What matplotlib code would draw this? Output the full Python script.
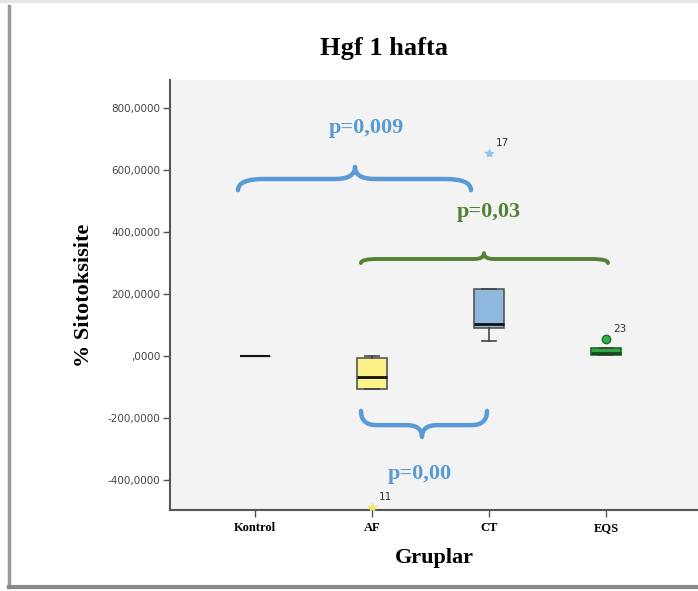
import matplotlib
matplotlib.use("Agg")
import matplotlib.pyplot as plt
from matplotlib.path import Path
from matplotlib.patches import PathPatch
from matplotlib.lines import Line2D

# ---- data ---------------------------------------------------------------
groups = ["Kontrol", "AF", "CT", "EQS"]
q1 = [0, -107, 91, 4]
medians = [0, -69, 103, 9]
q3 = [0, -7, 216, 25]
whisker_low = [0, -107, 48, 4]
whisker_high = [0, 1, 216, 25]
outliers = [[], [-487], [655], [55]]
outlier_ids = [[], ["11"], ["17"], ["23"]]

y_ticks = [-400, -200, 0, 200, 400, 600, 800]
y_tick_labels = ["-400,0000", "-200,0000", ",0000", "200,0000",
                 "400,0000", "600,0000", "800,0000"]

# pairwise comparisons: (left group, right group, p label)
comparisons = [("Kontrol", "CT", "p=0,009"),
               ("AF", "EQS", "p=0,03"),
               ("AF", "CT", "p=0,00")]

# ---- styling --------------------------------------------------------------
box_fill = ["#000000", "#fbf38a", "#8fb8de", "#35a246"]
box_edge = ["#000000", "#555555", "#555555", "#1e6a2b"]
outlier_style = [None,
                 dict(marker="*", color="#f3e66a", ms=6, mec="#f3e66a"),
                 dict(marker="*", color="#9cc3e6", ms=6, mec="#9cc3e6"),
                 dict(marker="o", color="#2db34a", ms=6, mec="#1e6a2b")]
blue = "#5b9bd5"
green = "#548235"
serif = "Liberation Serif"

fig = plt.figure(figsize=(6.98, 5.91), dpi=100)
fig.patch.set_facecolor("white")

W, H = 698, 591
ax = fig.add_axes([170 / W, 81 / H, (W - 170) / W, 430 / H])
ax.set_facecolor("#f3f3f3")

positions = list(range(1, len(groups) + 1))
stats = []
for i, g in enumerate(groups):
    stats.append(dict(label=g, q1=q1[i], med=medians[i], q3=q3[i],
                      whislo=whisker_low[i], whishi=whisker_high[i],
                      fliers=[]))

bp = ax.bxp(stats, positions=positions, widths=0.26, patch_artist=True,
            showfliers=False, capwidths=0.12)
for i, box in enumerate(bp["boxes"]):
    box.set_facecolor(box_fill[i])
    box.set_edgecolor(box_edge[i])
    box.set_linewidth(1.2 if i else 0.8)
for i, med in enumerate(bp["medians"]):
    med.set_color("#111111" if i != 3 else "#124a1c")
    med.set_linewidth(2.0 if i else 1.5)
for w in bp["whiskers"]:
    w.set_color("#444444")
    w.set_linewidth(1.2)
for c in bp["caps"]:
    c.set_color("#444444")
    c.set_linewidth(1.2)

# outliers with case numbers
for i, (vals, ids) in enumerate(zip(outliers, outlier_ids)):
    for v, lab in zip(vals, ids):
        ax.plot([positions[i]], [v], linestyle="none", zorder=5,
                clip_on=False, **outlier_style[i])
        ax.annotate(lab, (positions[i], v), xytext=(5, 5),
                    textcoords="offset points", fontsize=7.5,
                    color="#333333", fontfamily="DejaVu Sans")


def brace(x0, x1, xm, y_end, y_line, y_tip, curl, tip, color, lw):
    verts = [(x0, y_end), (x0, y_line), (x0 + curl, y_line),
             (xm - tip, y_line), (xm, y_line), (xm, y_tip),
             (xm, y_line), (xm + tip, y_line),
             (x1 - curl, y_line), (x1, y_line), (x1, y_end)]
    codes = [Path.MOVETO, Path.CURVE3, Path.CURVE3,
             Path.LINETO, Path.CURVE3, Path.CURVE3,
             Path.CURVE3, Path.CURVE3,
             Path.LINETO, Path.CURVE3, Path.CURVE3]
    patch = PathPatch(Path(verts, codes), facecolor="none", edgecolor=color,
                      lw=lw, capstyle="round", joinstyle="round", zorder=4)
    ax.add_patch(patch)


# brace geometry for each comparison
brace_geom = [
    dict(x0=0.855, x1=2.846, xm=1.855, y_end=535, y_line=571, y_tip=610,
         curl=0.22, tip=0.17, color=blue, lw=3.2,
         tx=1.95, ty=735),
    dict(x0=1.906, x1=4.017, xm=2.957, y_end=300, y_line=313, y_tip=332,
         curl=0.14, tip=0.08, color=green, lw=2.8,
         tx=3.0, ty=465),
    dict(x0=1.906, x1=2.983, xm=2.427, y_end=-177, y_line=-223, y_tip=-261,
         curl=0.13, tip=0.13, color=blue, lw=3.2,
         tx=2.41, ty=-381),
]
for (a, b, plab), gm in zip(comparisons, brace_geom):
    brace(gm["x0"], gm["x1"], gm["xm"], gm["y_end"], gm["y_line"],
          gm["y_tip"], gm["curl"], gm["tip"], gm["color"], gm["lw"])
    ax.text(gm["tx"], gm["ty"], plab, ha="center", va="center",
            fontsize=16, fontweight="bold", color=gm["color"],
            fontfamily=serif)

# axes
ax.set_xlim(1 - 85 / 117, 1 + (W - 255) / 117)
ax.set_ylim((356 - 510) * 200 / 62, (356 - 80) * 200 / 62)
ax.set_xticks(positions)
ax.set_xticklabels(groups, fontfamily=serif, fontweight="bold", fontsize=9)
ax.set_yticks(y_ticks)
ax.set_yticklabels(y_tick_labels, fontfamily="DejaVu Sans", fontsize=7.5,
                   color="#444444")
for s in ("top", "right"):
    ax.spines[s].set_visible(False)
for s in ("left", "bottom"):
    ax.spines[s].set_color("#555555")
    ax.spines[s].set_linewidth(1.5)
ax.tick_params(axis="both", direction="out", length=5, width=1,
               color="#555555")
ax.tick_params(axis="y", pad=2)

ax.set_xlabel("Gruplar", fontfamily=serif, fontweight="bold", fontsize=16,
              labelpad=10)
ax.set_ylabel("% Sitotoksisite", fontfamily=serif, fontweight="bold",
              fontsize=16, labelpad=10)
fig.text(384 / W, 1 - 48 / H, "Hgf 1 hafta", ha="center", va="center",
         fontfamily=serif, fontweight="bold", fontsize=19)

# outer frame with shadow
fig.add_artist(Line2D([9 / W, 9 / W], [4 / H, 1 - 6 / H],
                      transform=fig.transFigure, color="#9a9a9a", lw=2.5))
fig.add_artist(Line2D([9 / W, 1], [4 / H, 4 / H],
                      transform=fig.transFigure, color="#8a8a8a", lw=3))
fig.add_artist(Line2D([0, 1], [1 - 1 / H, 1 - 1 / H],
                      transform=fig.transFigure, color="#e6e6e6", lw=3))

fig.savefig("out.png", dpi=100)
